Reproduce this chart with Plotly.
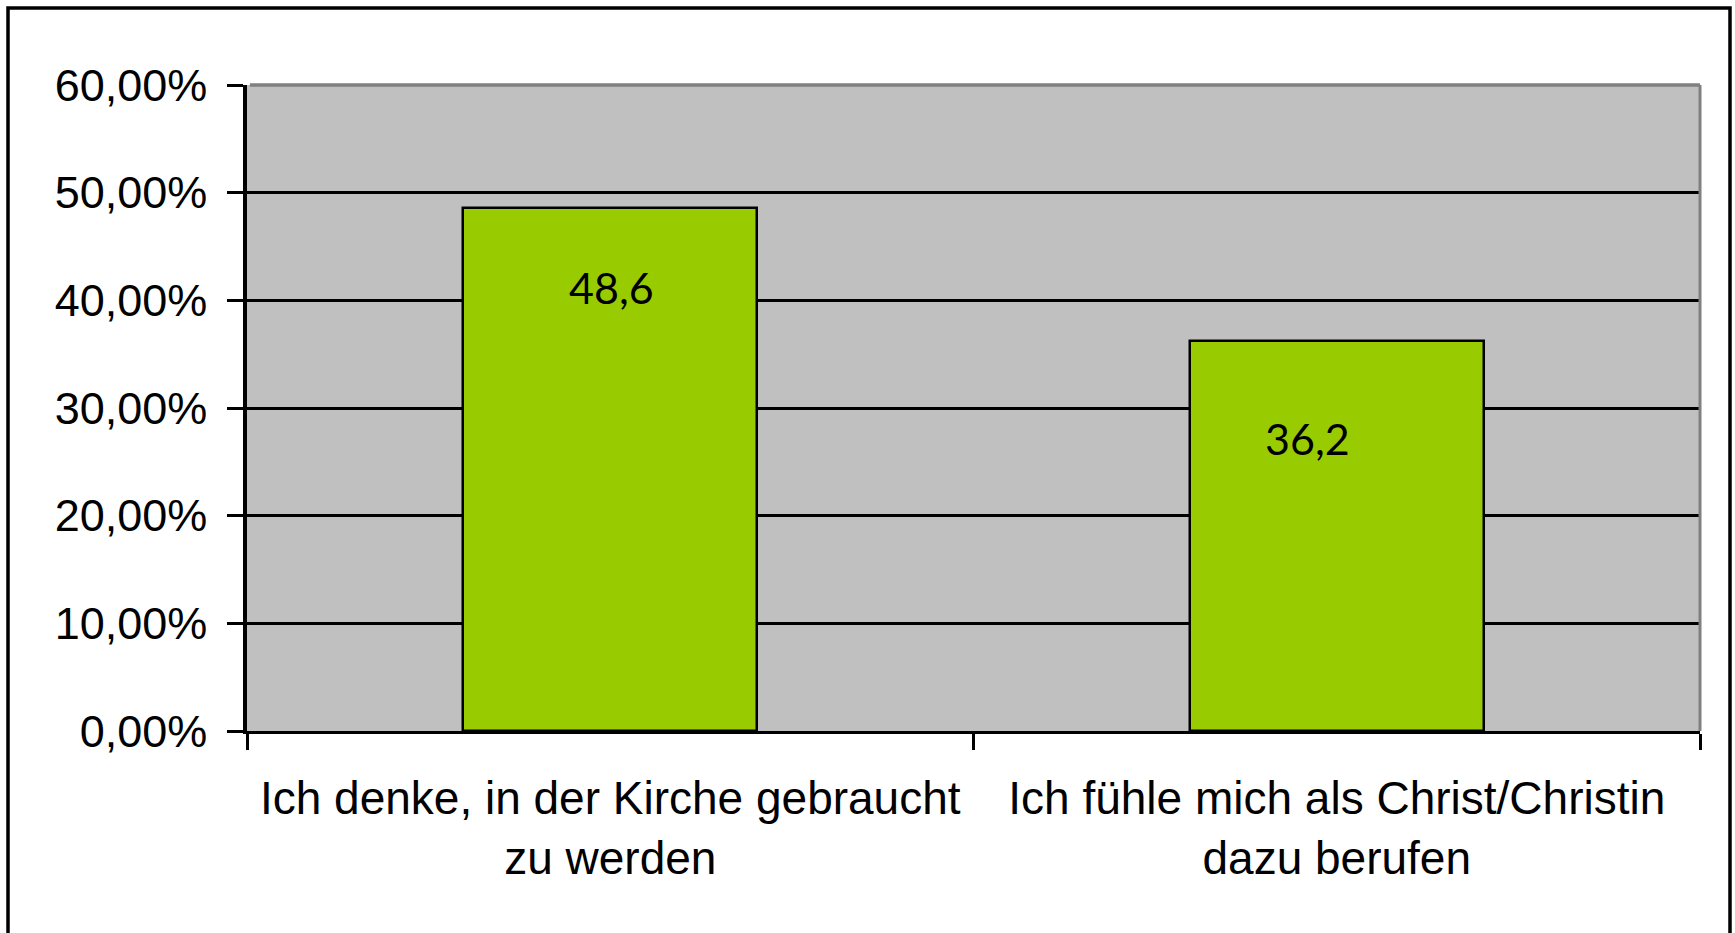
import plotly.graph_objects as go

# ---- data ----
categories = ["Ich denke, in der Kirche gebraucht<br>zu werden",
              "Ich fühle mich als Christ/Christin<br>dazu berufen"]
values = [0.486, 0.362]
value_labels = [f"{v*100:.1f}".replace(".", ",") for v in values]
y_ticks = [0.0, 0.1, 0.2, 0.3, 0.4, 0.5, 0.6]

# ---- style ----
label_yshift = [-80, -97]
label_xshift = [1, -29]
W, H = 1735, 933
L, R, T, B = 247, 35, 85, 202

fig = go.Figure()
fig.add_trace(go.Bar(
    x=categories, y=values, width=0.405,
    marker=dict(color="#99CC00", line=dict(color="black", width=2.5)),
    hoverinfo="skip",
))

for c, v, t, ys, xs in zip(categories, values, value_labels, label_yshift, label_xshift):
    fig.add_annotation(x=c, y=v, text=t, showarrow=False, yanchor="middle",
                       xanchor="center", yshift=ys, xshift=xs,
                       font=dict(family="Lato, Carlito, sans-serif", size=43, color="black"))

pw = W - L - R
ph = H - T - B
fig.add_shape(type="rect", xref="paper", yref="paper",
              x0=(8 - L) / pw, x1=(1730 - L) / pw,
              y0=(H - B - 950) / ph, y1=(H - B - 8) / ph,
              line=dict(color="black", width=3.5), fillcolor="rgba(0,0,0,0)", layer="above")
fig.add_shape(type="line", xref="paper", yref="paper", x0=0.002, x1=1, y0=1, y1=1,
              line=dict(color="#808080", width=3.5), layer="above")
fig.add_shape(type="line", xref="paper", yref="paper", x0=1, x1=1, y0=0, y1=1,
              line=dict(color="#808080", width=3), layer="above")

fig.update_layout(
    width=W, height=H, margin=dict(l=L, r=R, t=T, b=B, autoexpand=False),
    paper_bgcolor="white", plot_bgcolor="#C0C0C0",
    separators=",.", showlegend=False, bargap=0,
    font=dict(family="Liberation Sans, Arial, sans-serif", color="black"),
)
fig.update_xaxes(
    showline=True, linecolor="black", linewidth=3,
    ticks="outside", tickson="boundaries", ticklen=16, tickwidth=2.5, tickcolor="black",
    tickfont=dict(size=46, family="Liberation Sans, Arial, sans-serif", color="black"),
    showgrid=False, automargin=False, fixedrange=True, ticklabelstandoff=25,
)
fig.update_yaxes(
    range=[0, 0.6], tickvals=y_ticks, tickformat=".2%",
    showline=True, linecolor="black", linewidth=3.5,
    ticks="outside", ticklen=16, tickwidth=3, tickcolor="black",
    tickfont=dict(size=45, family="Liberation Sans, Arial, sans-serif", color="black"),
    showgrid=True, gridcolor="black", gridwidth=3, zeroline=False,
    ticklabelstandoff=11, automargin=False, fixedrange=True,
)

fig.write_html("out.html", config={"displayModeBar": False},
               post_script="document.body.style.margin='0';document.body.style.overflow='hidden';")
